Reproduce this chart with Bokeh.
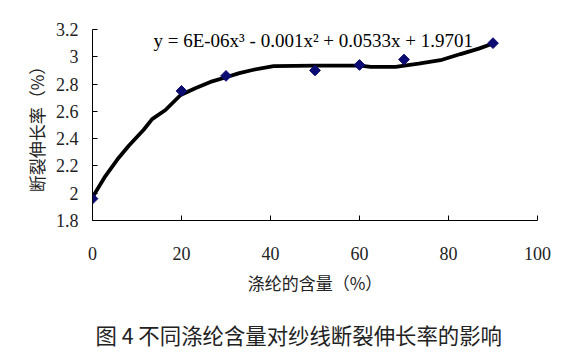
import math
from bokeh.plotting import figure
from bokeh.models import Range1d, Label, Title, FixedTicker
from bokeh.embed import file_html
from bokeh.resources import INLINE

# data
content = [0, 20, 30, 50, 60, 70, 90]
elong = [1.96, 2.75, 2.86, 2.90, 2.94, 2.98, 3.10]

trend_x = [0, 2.9, 5.9, 8.2, 11.5, 13.4, 16.4, 19.8, 23.1, 26.9, 30.0, 33.0,
           36.2, 40.7, 50, 60.2, 62.5, 68.1, 73.3, 78.2, 82.7, 86.8, 89.4, 90]
trend_y = [1.97, 2.126, 2.26, 2.35, 2.465, 2.543, 2.61, 2.72, 2.77, 2.82, 2.85, 2.88,
           2.905, 2.932, 2.935, 2.935, 2.926, 2.926, 2.95, 2.975, 3.02, 3.06, 3.09, 3.10]

x_ticks = [0, 20, 40, 60, 80, 100]
y_ticks = [1.8, 2.0, 2.2, 2.4, 2.6, 2.8, 3.0, 3.2]
y_tick_labels = ["1.8", "2", "2.2", "2.4", "2.6", "2.8", "3", "3.2"]

equation = "y = 6E-06x³ - 0.001x² + 0.0533x + 1.9701"
x_label = "涤纶的含量（%）"
y_label = "断裂伸长率（%）"
caption = "图 4  不同涤纶含量对纱线断裂伸长率的影响"

p = figure(width=561, height=359, output_backend="svg", toolbar_location=None,
           x_range=Range1d(0, 100), y_range=Range1d(1.8, 3.2),
           min_border_left=92, min_border_right=24, min_border_top=29, min_border_bottom=139)
p.outline_line_color = None
p.xgrid.visible = False
p.ygrid.visible = False
p.background_fill_color = "white"
p.border_fill_color = "white"

p.line(trend_x, trend_y, line_color="black", line_width=3.8)
p.scatter(content, elong, marker="square", angle=math.pi / 4, size=7.6,
          fill_color="#0b0b72", line_color="#0b0b72", line_width=1)

tick_font = "Liberation Serif"
cjk_font = "Noto Sans CJK SC"

for ax in (p.xaxis[0], p.yaxis[0]):
    ax.axis_line_color = "black"
    ax.major_tick_line_color = "black"
    ax.major_tick_in = 5
    ax.major_tick_out = 0
    ax.minor_tick_line_color = None
    ax.major_label_text_font = tick_font
    ax.major_label_text_font_size = "18px"
    ax.major_label_text_color = "#222222"
    ax.axis_label_text_font = cjk_font
    ax.axis_label_text_font_size = "17px"
    ax.axis_label_text_font_style = "normal"
    ax.axis_label_text_color = "#222222"

p.xaxis.ticker = FixedTicker(ticks=x_ticks)
p.yaxis.ticker = FixedTicker(ticks=y_ticks)
p.yaxis.major_label_overrides = {t: l for t, l in zip(y_ticks, y_tick_labels)}
p.xaxis.major_label_standoff = 26
p.yaxis.major_label_standoff = 14
p.xaxis.axis_label = x_label
p.yaxis.axis_label = y_label
p.xaxis.axis_label_standoff = 7
p.yaxis.axis_label_standoff = 4

p.add_layout(Label(x=13.7, y=3.041, text=equation, text_font="Liberation Serif",
                   text_font_size="19px", text_color="black"))

spacer = Title(text=" ", text_font_size="11px", standoff=0)
p.add_layout(spacer, "below")
cap = Title(text=caption, text_font=cjk_font, text_font_size="21.4px",
            text_font_style="normal", text_color="#222222", align="left", offset=3,
            standoff=10)
p.add_layout(cap, "below")

open("out.html", "w").write(file_html(p, INLINE))
